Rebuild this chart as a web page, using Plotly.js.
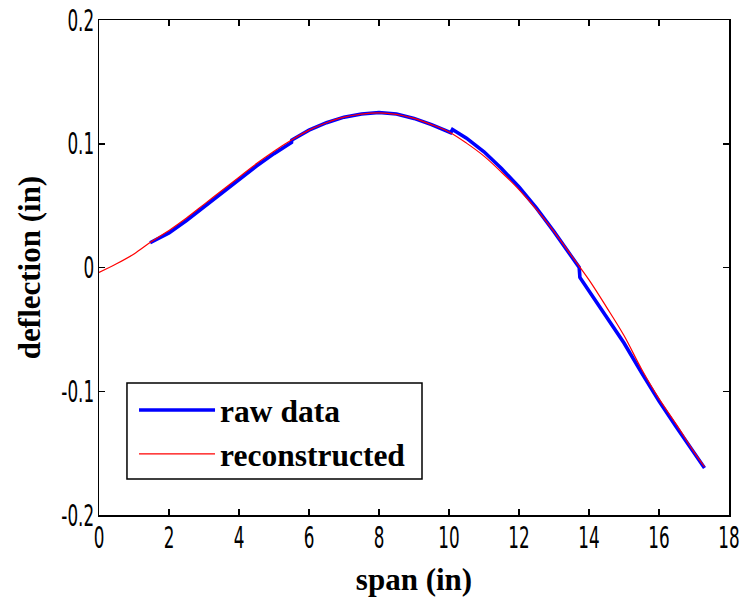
<!DOCTYPE html>
<html>
<head>
<meta charset="utf-8">
<script src="https://cdn.plot.ly/plotly-3.0.1.min.js"></script>
<style>html,body{margin:0;padding:0;background:#fff;}#chart{width:742px;height:601px;}</style>
</head>
<body>
<div id="chart"></div>
<script>
// Reconstructed curve (span in inches, deflection in inches)
const reconSpan = [0.0, 0.5, 1.0, 1.5, 2.0, 2.5, 3.0, 3.5, 4.0, 4.5, 5.0, 5.5, 6.0, 6.5, 7.0, 7.5, 8.0, 8.5, 9.0, 9.5, 10.0, 10.5, 11.0, 11.5, 12.0, 12.5, 13.0, 13.5, 14.0, 14.5, 15.0, 15.5, 16.0, 16.5, 17.0, 17.3];
const reconDefl = [-0.004, 0.003, 0.011, 0.021, 0.030, 0.040, 0.051, 0.062, 0.073, 0.084, 0.094, 0.103, 0.111, 0.117, 0.1215, 0.124, 0.125, 0.1238, 0.1205, 0.1155, 0.1095, 0.1005, 0.090, 0.077, 0.063, 0.047, 0.029, 0.0095, -0.010, -0.032, -0.055, -0.082, -0.106, -0.127, -0.149, -0.161];

// Raw measured data
const rawSpan = [1.46, 2.0, 2.5, 3.0, 3.5, 4.0, 4.5, 5.0, 5.5, 5.51, 6.0, 6.5, 7.0, 7.5, 8.0, 8.5, 9.0, 9.5, 10.05, 10.1, 10.5, 11.0, 11.5, 12.0, 12.5, 13.0, 13.5, 13.72, 13.74, 14.0, 14.5, 15.0, 15.5, 16.0, 16.5, 17.0, 17.3];
const rawDefl = [0.020, 0.028, 0.038, 0.049, 0.060, 0.071, 0.082, 0.092, 0.101, 0.103, 0.111, 0.117, 0.1215, 0.124, 0.1252, 0.124, 0.1205, 0.1155, 0.109, 0.1115, 0.1045, 0.0935, 0.080, 0.065, 0.048, 0.029, 0.009, 0.0, -0.008, -0.019, -0.039, -0.061, -0.085, -0.108, -0.129, -0.150, -0.162];

const xTicks = [0, 2, 4, 6, 8, 10, 12, 14, 16, 18];
const yTicks = [-0.2, -0.1, 0, 0.1, 0.2];
const yTickText = ["-0.2", "-0.1", "0", "0.1", "0.2"];

const TICK_BASE = 17;   // size used for layout measurement
const TICK_FINAL = 30;  // size drawn (squeezed horizontally, MATLAB-like narrow digits)
const TICK_SQUEEZE = 0.56;

const tickFont = {family: "DejaVu Sans, sans-serif", size: TICK_BASE, color: "#000"};
const titleFont = {family: "Liberation Serif, Times New Roman, serif", size: 31, color: "#000", weight: "bold"};

const traces = [
  {x: rawSpan, y: rawDefl, type: "scatter", mode: "lines", name: "raw data",
   line: {color: "#0000ff", width: 3.6}},
  {x: reconSpan, y: reconDefl, type: "scatter", mode: "lines", name: "reconstructed",
   line: {color: "#ff0000", width: 1.2, shape: "spline"}}
];

const axisCommon = {
  showgrid: false, zeroline: false, showline: true, linecolor: "#000", linewidth: 1.5,
  mirror: "ticks", ticks: "inside", ticklen: 6, tickwidth: 1.5, tickcolor: "#000",
  tickfont: tickFont, ticklabeloverflow: "allow"
};

const layout = {
  width: 742, height: 601,
  paper_bgcolor: "#fff", plot_bgcolor: "#fff",
  margin: {l: 99, r: 13, t: 20, b: 86},
  showlegend: true,
  xaxis: Object.assign({}, axisCommon, {
    range: [0, 18], tickvals: xTicks, ticktext: xTicks.map(String),
    title: {text: "span (in)", font: titleFont, standoff: 28}
  }),
  yaxis: Object.assign({}, axisCommon, {
    range: [-0.2, 0.2], tickvals: yTicks, ticktext: yTickText,
    title: {text: "deflection (in)", font: titleFont, standoff: 11}
  }),
  shapes: [{
    type: "rect", xref: "paper", yref: "paper",
    x0: 0.0444, x1: 0.5127, y0: 0.0727, y1: 0.2667,
    line: {color: "#000", width: 1.5}, fillcolor: "#fff", layer: "above"
  }],
  legend: {
    x: 0.0556, y: 0.2667, xanchor: "left", yanchor: "top",
    bgcolor: "rgba(0,0,0,0)", borderwidth: 0,
    font: {family: "Liberation Serif, Times New Roman, serif", size: 31.5, color: "#000", weight: "bold"},
    itemwidth: 76, tracegroupgap: 0
  }
};

function squeezeTicks(gd) {
  gd.querySelectorAll(".xtick text, .ytick text").forEach(function (t) {
    const isX = t.parentNode.classList.contains("xtick");
    t.style.fontSize = TICK_FINAL + "px";
    const x0 = parseFloat(t.getAttribute("x")) || 0;
    const dy = isX ? (TICK_FINAL - TICK_BASE) * 0.72 + 2 : (TICK_FINAL - TICK_BASE) * 0.36;
    const tr = t.getAttribute("transform") || "";
    t.setAttribute("transform", tr + " translate(" + x0 + "," + dy + ") scale(" + TICK_SQUEEZE + ",1) translate(" + (-x0) + ",0)");
  });
}

Plotly.newPlot("chart", traces, layout, {displayModeBar: false, staticPlot: true})
  .then(squeezeTicks);
</script>
</body>
</html>
